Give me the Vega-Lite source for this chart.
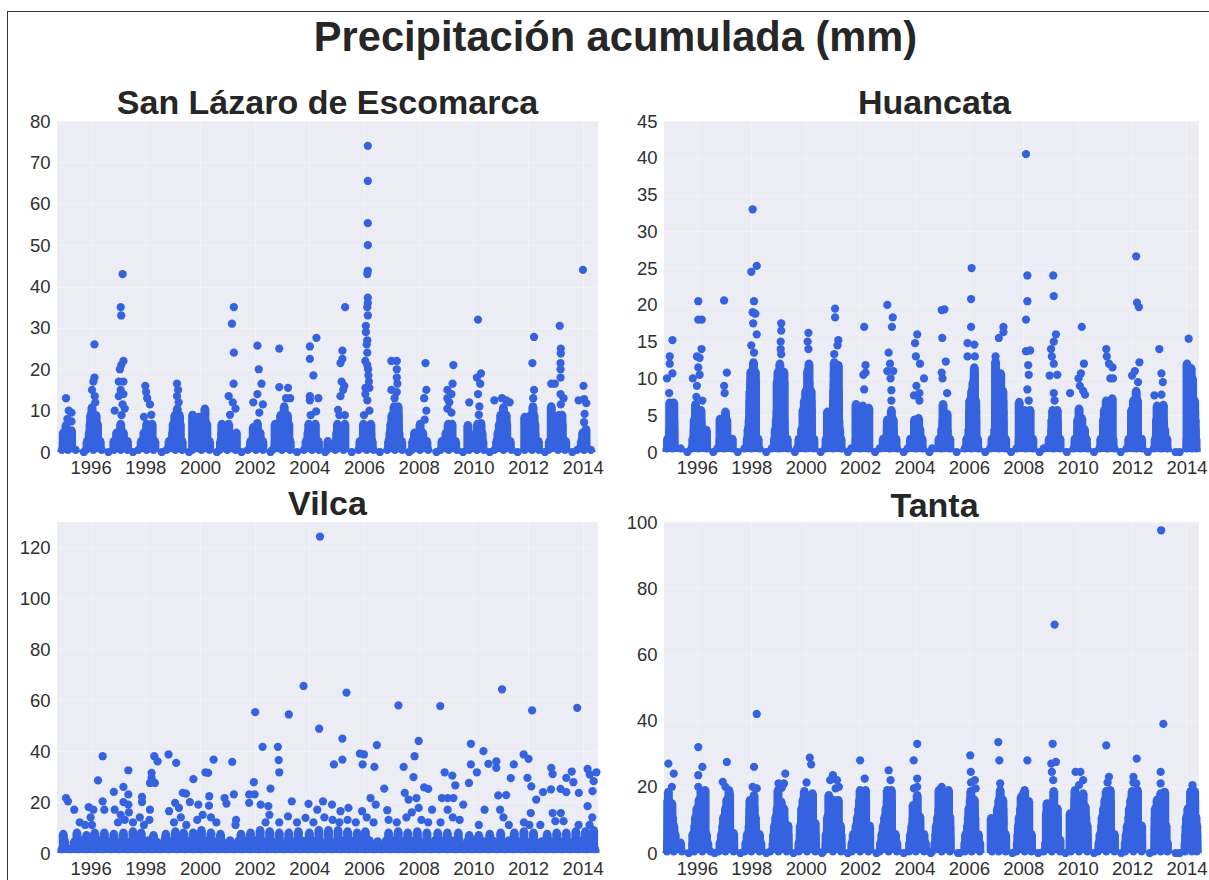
{"$schema":"https://vega.github.io/schema/vega-lite/v6.json","background":"white","padding":{"left":7,"top":11,"right":0,"bottom":0},"spacing":0,"config":{"view":{"fill":"#ECECF4","stroke":null},"axis":{"labelFont":"Liberation Sans","labelFontSize":18.5,"labelColor":"#303030","ticks":false,"domain":false,"title":null,"gridColor":"#F2F2F8","gridWidth":1},"title":{"font":"Liberation Sans","fontSize":34,"fontWeight":"bold","color":"#262626","offset":-9},"point":{"filled":true,"size":68,"color":"#3563E0","opacity":1}},"vconcat":[{"width":1202,"height":1,"view":{"fill":"#333333","stroke":null},"data":{"values":[]},"mark":"rule","encoding":{}},{"spacing":0,"hconcat":[{"width":1,"height":868,"view":{"fill":"#333333","stroke":null},"data":{"values":[]},"mark":"rule","encoding":{}},{"spacing":27,"vconcat":[{"width":1201,"height":1,"view":{"fill":null,"stroke":null},"title":{"text":"Precipitación acumulada (mm)","orient":"bottom","fontSize":41.6,"offset":5,"dx":-42},"data":{"values":[]},"mark":"rule","encoding":{}},{"columns":2,"spacing":{"column":11,"row":11},"concat":[{"title":"San Lázaro de Escomarca","width":541,"height":331,"data":{"values":[
{"x":1994.95,"y":0.5},{"x":1995.17,"y":0.5},{"x":1995.45,"y":0.5},{"x":1995.75,"y":0},{"x":1995,"y":2.6},{"x":1995.25,"y":2.6},{"x":1995,"y":4.7},{"x":1995.3,"y":5.2},{"x":1995.1,"y":13},{"x":1995.2,"y":10},{"x":1995.3,"y":9.5},{"x":1995.15,"y":8},{"x":1995.1,"y":6.5},{"x":1995.3,"y":7.4},
{"x":1995.83,"y":0.5},{"x":1996.1,"y":0.5},{"x":1996.4,"y":0.5},{"x":1996.65,"y":0},{"x":1995.87,"y":2.6},{"x":1996.1,"y":2.6},{"x":1996.35,"y":2.6},{"x":1995.95,"y":4.7},{"x":1996.25,"y":4.7},{"x":1995.98,"y":6.8},{"x":1996.25,"y":6.8},{"x":1996,"y":8.9},{"x":1996.2,"y":8.9},{"x":1996.05,"y":10.8},{"x":1996.17,"y":12},{"x":1996.14,"y":26},{"x":1996.14,"y":18},{"x":1996.1,"y":17},{"x":1996.05,"y":15},{"x":1996.15,"y":13.5},
{"x":1996.85,"y":0.5},{"x":1997.1,"y":0.5},{"x":1997.35,"y":0.5},{"x":1997.55,"y":0},{"x":1996.85,"y":2.6},{"x":1997.1,"y":2.6},{"x":1997.35,"y":2.6},{"x":1996.95,"y":4.7},{"x":1997.2,"y":4.7},{"x":1997.1,"y":6.8},{"x":1997.13,"y":8.9},{"x":1997.17,"y":43},{"x":1997.1,"y":35},{"x":1997.12,"y":33},{"x":1997.2,"y":22},{"x":1997.12,"y":21},{"x":1997.07,"y":20},{"x":1997.03,"y":17},{"x":1997.2,"y":17},{"x":1997.1,"y":15},{"x":1997.2,"y":14},{"x":1997.03,"y":13.5},{"x":1997.17,"y":11.5},{"x":1996.88,"y":10},{"x":1997.25,"y":10.5},
{"x":1997.75,"y":0.5},{"x":1998.05,"y":0.5},{"x":1998.3,"y":0.5},{"x":1998.6,"y":0},{"x":1997.85,"y":2.6},{"x":1998.1,"y":2.6},{"x":1998.35,"y":2.6},{"x":1997.95,"y":4.7},{"x":1998.2,"y":4.7},{"x":1998.05,"y":6.8},{"x":1998.25,"y":6.8},{"x":1998.22,"y":9},{"x":1998,"y":16},{"x":1998.03,"y":14.5},{"x":1998.07,"y":13},{"x":1998.17,"y":11.5},{"x":1997.95,"y":8.5},
{"x":1998.78,"y":0.5},{"x":1999.1,"y":0.5},{"x":1999.35,"y":0.5},{"x":1999.6,"y":0},{"x":1998.87,"y":2.6},{"x":1999.1,"y":2.6},{"x":1999.35,"y":2.6},{"x":1999,"y":4.7},{"x":1999.25,"y":4.7},{"x":1999.02,"y":6.8},{"x":1999.28,"y":6.8},{"x":1999.08,"y":8.9},{"x":1999.25,"y":8.9},{"x":1999.16,"y":16.5},{"x":1999.2,"y":15},{"x":1999.16,"y":13.5},{"x":1999.22,"y":12},{"x":1999.17,"y":10.5},
{"x":1999.72,"y":0.5},{"x":2000.05,"y":0.5},{"x":2000.35,"y":0.5},{"x":2000.62,"y":0},{"x":1999.8,"y":2.6},{"x":2000.1,"y":2.6},{"x":2000.35,"y":2.6},{"x":1999.95,"y":4.7},{"x":2000.2,"y":4.7},{"x":1999.78,"y":6.8},{"x":2000.05,"y":6.8},{"x":2000.25,"y":6.8},{"x":2000.18,"y":10.5},{"x":1999.73,"y":9},{"x":1999.95,"y":8.5},{"x":2000.15,"y":8.8},
{"x":2000.72,"y":0.5},{"x":2001,"y":0.5},{"x":2001.3,"y":0.5},{"x":2001.52,"y":0},{"x":2000.75,"y":2.6},{"x":2001.05,"y":2.6},{"x":2001.3,"y":2.6},{"x":2000.8,"y":4.7},{"x":2001.1,"y":4.7},{"x":2001.33,"y":4.7},{"x":2000.8,"y":6.8},{"x":2001.05,"y":6.8},{"x":2001.24,"y":35},{"x":2001.17,"y":31},{"x":2001.24,"y":24},{"x":2001.23,"y":16.5},{"x":2001.05,"y":13.5},{"x":2001.2,"y":12},{"x":2001.3,"y":10.5},{"x":2001.1,"y":9},
{"x":2001.75,"y":0.5},{"x":2002.05,"y":0.5},{"x":2002.3,"y":0.5},{"x":2002.58,"y":0},{"x":2001.85,"y":2.6},{"x":2002.1,"y":2.6},{"x":2002.3,"y":2.6},{"x":2002.2,"y":4.7},{"x":2002.1,"y":25.7},{"x":2002.15,"y":20},{"x":2002.25,"y":16.5},{"x":2002.1,"y":14},{"x":2001.95,"y":12},{"x":2002.3,"y":11.5},{"x":2002.1,"y":7},{"x":2001.95,"y":6},{"x":2002.17,"y":9.5},
{"x":2002.65,"y":0.5},{"x":2003,"y":0.5},{"x":2003.3,"y":0.5},{"x":2003.55,"y":0},{"x":2002.75,"y":2.6},{"x":2003.05,"y":2.6},{"x":2003.3,"y":2.6},{"x":2002.85,"y":4.7},{"x":2003.15,"y":4.7},{"x":2002.75,"y":6.8},{"x":2003.05,"y":6.8},{"x":2003.25,"y":6.8},{"x":2002.95,"y":8.9},{"x":2003.2,"y":8.9},{"x":2003.08,"y":11},{"x":2002.9,"y":25},{"x":2002.9,"y":15.7},{"x":2003.22,"y":15.5},{"x":2003.15,"y":13},{"x":2003.3,"y":13},
{"x":2003.8,"y":0.5},{"x":2004.1,"y":0.5},{"x":2004.35,"y":0.5},{"x":2004.58,"y":0},{"x":2003.88,"y":2.6},{"x":2004.1,"y":2.6},{"x":2004.33,"y":2.6},{"x":2003.95,"y":4.7},{"x":2004.2,"y":4.7},{"x":2003.98,"y":6.8},{"x":2004.22,"y":6.8},{"x":2004.05,"y":8.9},{"x":2004.25,"y":9.8},{"x":2004.02,"y":25.5},{"x":2004.26,"y":27.6},{"x":2004.02,"y":22.5},{"x":2004.15,"y":18.5},{"x":2004.02,"y":13.5},{"x":2004.02,"y":12.5},{"x":2004.33,"y":13},
{"x":2004.65,"y":0.5},{"x":2004.95,"y":0.5},{"x":2005.25,"y":0.5},{"x":2005.55,"y":0},{"x":2004.68,"y":2.6},{"x":2004.98,"y":2.6},{"x":2005.25,"y":2.6},{"x":2005,"y":4.7},{"x":2005.25,"y":4.7},{"x":2005.03,"y":6.8},{"x":2005.3,"y":6.8},{"x":2005.1,"y":8.9},{"x":2005.3,"y":8.9},{"x":2005.05,"y":10.2},{"x":2005.31,"y":35},{"x":2005.21,"y":24.5},{"x":2005.21,"y":22.5},{"x":2005.14,"y":21.5},{"x":2005.18,"y":17},{"x":2005.28,"y":16},{"x":2005.24,"y":15},{"x":2005.14,"y":13.5},
{"x":2005.8,"y":0.5},{"x":2006.1,"y":0.5},{"x":2006.35,"y":0.5},{"x":2006.58,"y":0},{"x":2005.85,"y":2.6},{"x":2006.15,"y":2.6},{"x":2006.3,"y":2.6},{"x":2005.98,"y":4.7},{"x":2006.25,"y":4.7},{"x":2005.98,"y":6.8},{"x":2006.25,"y":6.8},{"x":2006,"y":8.9},{"x":2006.2,"y":10},{"x":2006.14,"y":74},{"x":2006.14,"y":65.5},{"x":2006.14,"y":55.3},{"x":2006.14,"y":50},{"x":2006.14,"y":43.8},{"x":2006.12,"y":43},{"x":2006.14,"y":37.3},{"x":2006.14,"y":36},{"x":2006.12,"y":35},{"x":2006.14,"y":33},{"x":2006.07,"y":30.5},{"x":2006.07,"y":29},{"x":2006.12,"y":27},{"x":2006.1,"y":26},{"x":2006.12,"y":24},{"x":2006.05,"y":22},{"x":2006.12,"y":21},{"x":2006.15,"y":20},{"x":2006.16,"y":18.5},{"x":2006.18,"y":17},{"x":2006.05,"y":15.5},{"x":2006.2,"y":15.5},{"x":2006.05,"y":14},{"x":2006.12,"y":12.5},
{"x":2006.85,"y":0.5},{"x":2007.13,"y":0.5},{"x":2007.4,"y":0.5},{"x":2007.65,"y":0},{"x":2006.9,"y":2.6},{"x":2007.13,"y":2.6},{"x":2007.38,"y":2.6},{"x":2006.95,"y":4.7},{"x":2007.28,"y":4.7},{"x":2006.98,"y":6.8},{"x":2007.25,"y":6.8},{"x":2007.02,"y":8.9},{"x":2007.25,"y":8.9},{"x":2007.1,"y":11},{"x":2007.25,"y":11},{"x":2007.12,"y":13},{"x":2007,"y":22},{"x":2007.2,"y":22},{"x":2007.2,"y":20},{"x":2007.2,"y":18},{"x":2007.22,"y":16.5},{"x":2007,"y":15},{"x":2007.2,"y":14.5},
{"x":2007.75,"y":0.5},{"x":2008.05,"y":0.5},{"x":2008.35,"y":0.5},{"x":2008.65,"y":0},{"x":2007.78,"y":2.6},{"x":2008.05,"y":2.6},{"x":2008.3,"y":2.6},{"x":2007.85,"y":4.7},{"x":2008.15,"y":4.7},{"x":2008.05,"y":6.8},{"x":2008.22,"y":7.8},{"x":2008.25,"y":21.5},{"x":2008.28,"y":15},{"x":2008.2,"y":13},{"x":2008.28,"y":10},
{"x":2008.8,"y":0.5},{"x":2009.1,"y":0.5},{"x":2009.4,"y":0.5},{"x":2009.62,"y":0},{"x":2008.85,"y":2.6},{"x":2009.15,"y":2.6},{"x":2009.35,"y":2.6},{"x":2009,"y":4.7},{"x":2009.2,"y":4.7},{"x":2009.08,"y":6.8},{"x":2009.22,"y":6.8},{"x":2009.27,"y":21},{"x":2009.24,"y":16.5},{"x":2009.05,"y":15},{"x":2009.2,"y":14},{"x":2009.05,"y":13},{"x":2009.12,"y":12},{"x":2009.05,"y":10.5},{"x":2009.2,"y":9.5},
{"x":2009.85,"y":0.5},{"x":2010.13,"y":0.5},{"x":2010.38,"y":0.5},{"x":2010.6,"y":0},{"x":2009.9,"y":2.6},{"x":2010.13,"y":2.6},{"x":2010.35,"y":2.6},{"x":2010.1,"y":4.7},{"x":2010.32,"y":4.7},{"x":2010.15,"y":6.8},{"x":2010.28,"y":7},{"x":2010.2,"y":9},{"x":2010.22,"y":11},{"x":2010.17,"y":32},{"x":2010.28,"y":19},{"x":2010.13,"y":18},{"x":2010.25,"y":16.5},{"x":2010.17,"y":14},{"x":2009.85,"y":12},{"x":2009.8,"y":6.5},
{"x":2010.77,"y":0.5},{"x":2011.1,"y":0.5},{"x":2011.4,"y":0.5},{"x":2011.62,"y":0},{"x":2010.85,"y":2.6},{"x":2011.1,"y":2.6},{"x":2011.35,"y":2.6},{"x":2010.9,"y":4.7},{"x":2011.2,"y":4.7},{"x":2010.95,"y":6.8},{"x":2011.22,"y":6.8},{"x":2011,"y":9},{"x":2011.2,"y":9},{"x":2010.77,"y":12.5},{"x":2011.05,"y":13},{"x":2011.2,"y":12.5},{"x":2011.33,"y":12},{"x":2011.1,"y":10.8},
{"x":2011.88,"y":0.5},{"x":2012.15,"y":0.5},{"x":2012.4,"y":0.5},{"x":2012.62,"y":0},{"x":2011.92,"y":2.6},{"x":2012.15,"y":2.6},{"x":2012.38,"y":2.6},{"x":2012,"y":4.7},{"x":2012.25,"y":4.7},{"x":2012.05,"y":6.8},{"x":2012.25,"y":6.8},{"x":2012.1,"y":8.9},{"x":2012.22,"y":8.9},{"x":2012.18,"y":11},{"x":2012.22,"y":27.8},{"x":2012.16,"y":21.5},{"x":2012.22,"y":15},{"x":2012.19,"y":13},{"x":2011.88,"y":8.5},
{"x":2012.75,"y":0.5},{"x":2013.1,"y":0.5},{"x":2013.35,"y":0.5},{"x":2013.62,"y":0},{"x":2012.78,"y":2.6},{"x":2013.15,"y":2.6},{"x":2013.38,"y":2.6},{"x":2012.9,"y":4.7},{"x":2013.2,"y":4.7},{"x":2013.1,"y":6.8},{"x":2013.25,"y":6.8},{"x":2013.12,"y":8.9},{"x":2013.24,"y":9},{"x":2013.16,"y":30.5},{"x":2013.2,"y":25},{"x":2013.2,"y":23.8},{"x":2013.19,"y":21.5},{"x":2013.19,"y":20},{"x":2013.19,"y":18},{"x":2012.85,"y":16.5},{"x":2012.98,"y":16.5},{"x":2013.19,"y":14},{"x":2013.3,"y":13},{"x":2012.85,"y":11},{"x":2013.2,"y":11.5},
{"x":2013.8,"y":0.5},{"x":2014.05,"y":0.5},{"x":2014.3,"y":0.5},{"x":2013.95,"y":2.6},{"x":2014.1,"y":2.6},{"x":2014,"y":4.7},{"x":2014.12,"y":5.5},{"x":2014.05,"y":7.2},{"x":2014.07,"y":9.2},{"x":2014.01,"y":44},{"x":2014.03,"y":16},{"x":2013.85,"y":12.5},{"x":2014.05,"y":12.8},{"x":2014.13,"y":11.8}
]},"encoding":{"x":{"field":"x","type":"quantitative","scale":{"domain":[1994.77,2014.56],"nice":false},"axis":{"values":[1996,1998,2000,2002,2004,2006,2008,2010,2012,2014],"format":"d","labelOverlap":false,"labelPadding":6}},"y":{"field":"y","type":"quantitative","scale":{"domain":[0,80],"nice":false},"axis":{"values":[0,10,20,30,40,50,60,70,80],"minExtent":49,"maxExtent":49,"labelPadding":7}}},"layer":[{"transform":[{"filter":"datum.y<=7||(((datum.x>1995.8&&datum.x<1996.6)||(datum.x>1998.8&&datum.x<2001)||(datum.x>2002.7&&datum.x<2003.5)||(datum.x>2006.8&&datum.x<2007.5)||(datum.x>2010.9&&datum.x<2013.5))&&datum.y<=11)"}],"mark":{"type":"rule","strokeWidth":9,"color":"#3563E0"},"encoding":{"y2":{"datum":0}}},{"mark":"point"}]},{"title":{"text":"Huancata","dx":3},"width":535,"height":331,"data":{"values":[
{"x":1994.9,"y":0.5},{"x":1995.1,"y":0.5},{"x":1995.4,"y":0.5},{"x":1995.65,"y":0},{"x":1994.92,"y":1.8},{"x":1995.15,"y":1.8},{"x":1995,"y":3.1},{"x":1995.15,"y":3.1},{"x":1995.15,"y":4.4},{"x":1994.9,"y":10},{"x":1995,"y":12},{"x":1995,"y":13},{"x":1995.1,"y":15.2},{"x":1995.1,"y":10.7},{"x":1995.15,"y":6.7},{"x":1995,"y":6.7},{"x":1994.98,"y":8},
{"x":1995.8,"y":0.5},{"x":1996.05,"y":0.5},{"x":1996.35,"y":0.5},{"x":1996.6,"y":0},{"x":1995.85,"y":1.8},{"x":1996.05,"y":1.8},{"x":1996.35,"y":1.8},{"x":1995.9,"y":3.1},{"x":1996.1,"y":3.1},{"x":1996.35,"y":3},{"x":1995.9,"y":4.4},{"x":1996.15,"y":4.4},{"x":1996.15,"y":5.7},{"x":1995.95,"y":6.5},{"x":1996.05,"y":20.5},{"x":1996.05,"y":18},{"x":1996.18,"y":18},{"x":1996.17,"y":14},{"x":1996,"y":13},{"x":1996.1,"y":12.8},{"x":1996.05,"y":11.5},{"x":1996.1,"y":10.5},{"x":1995.85,"y":10},{"x":1996,"y":9},{"x":1995.98,"y":7.5},{"x":1996.2,"y":7},
{"x":1996.75,"y":0.5},{"x":1997,"y":0.5},{"x":1997.3,"y":0.5},{"x":1997.5,"y":0},{"x":1996.85,"y":1.8},{"x":1997.1,"y":1.8},{"x":1997.3,"y":1.8},{"x":1996.95,"y":3.1},{"x":1997.1,"y":4.4},{"x":1996.85,"y":4.5},{"x":1997,"y":20.6},{"x":1997.1,"y":10.8},{"x":1997,"y":9},{"x":1997.02,"y":8},{"x":1997.05,"y":5.5},
{"x":1997.75,"y":0.5},{"x":1998,"y":0.5},{"x":1998.3,"y":0.5},{"x":1998.55,"y":0},{"x":1997.85,"y":1.8},{"x":1998.05,"y":1.8},{"x":1998.25,"y":1.8},{"x":1997.88,"y":3.1},{"x":1998.15,"y":3.1},{"x":1997.92,"y":4.4},{"x":1998.15,"y":4.4},{"x":1997.95,"y":5.7},{"x":1998.15,"y":5.7},{"x":1997.95,"y":7},{"x":1998.15,"y":7},{"x":1997.95,"y":8.3},{"x":1998.15,"y":8.3},{"x":1997.98,"y":9.6},{"x":1998.15,"y":9.6},{"x":1997.98,"y":10.9},{"x":1998.15,"y":10.9},{"x":1998.08,"y":12.2},{"x":1998,"y":24.5},{"x":1998.2,"y":25.3},{"x":1998.05,"y":33},{"x":1998.1,"y":20.5},{"x":1998.05,"y":19},{"x":1998.15,"y":18.8},{"x":1998.07,"y":17.5},{"x":1998.2,"y":16},{"x":1998,"y":14.5},{"x":1998.1,"y":13.5},
{"x":1998.75,"y":0.5},{"x":1999,"y":0.5},{"x":1999.35,"y":0.5},{"x":1999.6,"y":0},{"x":1998.85,"y":1.8},{"x":1999.1,"y":1.8},{"x":1999.32,"y":1.8},{"x":1998.88,"y":3.1},{"x":1999.2,"y":3.1},{"x":1998.92,"y":4.4},{"x":1999.2,"y":4.4},{"x":1998.95,"y":5.7},{"x":1999.18,"y":5.7},{"x":1998.98,"y":7},{"x":1999.18,"y":7},{"x":1998.98,"y":8.3},{"x":1999.18,"y":8.3},{"x":1998.95,"y":9.6},{"x":1999.2,"y":9.6},{"x":1998.98,"y":10.9},{"x":1999.2,"y":10.9},{"x":1999.05,"y":12},{"x":1999.1,"y":17.5},{"x":1999.1,"y":16.5},{"x":1999.08,"y":15},{"x":1999.08,"y":14},{"x":1999.1,"y":13.3},
{"x":1999.68,"y":0.5},{"x":2000,"y":0.5},{"x":2000.3,"y":0.5},{"x":2000.55,"y":0},{"x":1999.75,"y":1.8},{"x":2000,"y":1.8},{"x":2000.3,"y":1.8},{"x":1999.85,"y":3.1},{"x":2000.15,"y":3.1},{"x":1999.95,"y":4.4},{"x":2000.2,"y":4.4},{"x":1999.9,"y":5.7},{"x":2000.2,"y":5.7},{"x":1999.95,"y":7},{"x":2000.2,"y":7},{"x":2000,"y":8.3},{"x":2000.2,"y":8.3},{"x":2000.12,"y":9.6},{"x":2000.1,"y":16.2},{"x":2000.07,"y":15},{"x":2000.1,"y":14},{"x":2000.12,"y":12},{"x":2000.07,"y":11},
{"x":2000.72,"y":0.5},{"x":2001,"y":0.5},{"x":2001.32,"y":0.5},{"x":2001.55,"y":0},{"x":2000.75,"y":1.8},{"x":2001,"y":1.8},{"x":2001.3,"y":1.8},{"x":2001.05,"y":3.1},{"x":2001.25,"y":3.1},{"x":2001.05,"y":4.4},{"x":2001.22,"y":4.4},{"x":2001.05,"y":5.7},{"x":2001.2,"y":5.7},{"x":2001.03,"y":7},{"x":2001.2,"y":7},{"x":2001.03,"y":8.3},{"x":2001.2,"y":8.3},{"x":2001.05,"y":9.6},{"x":2001.05,"y":11},{"x":2001.05,"y":12.2},{"x":2001.05,"y":13.3},{"x":2001.08,"y":19.5},{"x":2001.08,"y":18.3},{"x":2001.2,"y":15.2},{"x":2001.17,"y":14.5},{"x":2001.2,"y":11.8},{"x":2000.8,"y":5.5},
{"x":2001.68,"y":0.5},{"x":2002,"y":0.5},{"x":2002.3,"y":0.5},{"x":2002.55,"y":0},{"x":2001.85,"y":1.8},{"x":2002.1,"y":1.8},{"x":2002.3,"y":1.8},{"x":2002,"y":3},{"x":2002.18,"y":3.1},{"x":2002.15,"y":4.5},{"x":2002.15,"y":17},{"x":2002.2,"y":11.8},{"x":2002.12,"y":10.5},{"x":2002.2,"y":10.8},{"x":2002.15,"y":8.5},{"x":2001.85,"y":6.5},{"x":2002.32,"y":6},{"x":2002.1,"y":6.3},
{"x":2002.72,"y":0.5},{"x":2003.1,"y":0.5},{"x":2003.35,"y":0.5},{"x":2003.6,"y":0},{"x":2002.85,"y":1.8},{"x":2003.1,"y":1.8},{"x":2003.32,"y":1.8},{"x":2003,"y":3.1},{"x":2003.22,"y":3.1},{"x":2003,"y":4.4},{"x":2003.22,"y":4.4},{"x":2003.15,"y":5.7},{"x":2003.15,"y":7},{"x":2003.15,"y":8.4},{"x":2003,"y":20},{"x":2003.2,"y":18.3},{"x":2003.17,"y":17},{"x":2003.05,"y":13.5},{"x":2003.1,"y":12},{"x":2003,"y":11},{"x":2003.22,"y":11},{"x":2003.12,"y":10},
{"x":2003.75,"y":0.5},{"x":2004.05,"y":0.5},{"x":2004.3,"y":0.5},{"x":2004.55,"y":0},{"x":2003.85,"y":1.8},{"x":2004.1,"y":1.8},{"x":2004.28,"y":1.8},{"x":2004,"y":3.1},{"x":2004.2,"y":3.1},{"x":2004,"y":4.4},{"x":2004.15,"y":4.6},{"x":2004.1,"y":16},{"x":2004.02,"y":14.8},{"x":2004.05,"y":13},{"x":2004.2,"y":12},{"x":2004.35,"y":10},{"x":2003.98,"y":7.7},{"x":2004.18,"y":8},{"x":2004.07,"y":9},{"x":2004.18,"y":7},
{"x":2004.65,"y":0.5},{"x":2005,"y":0.5},{"x":2005.3,"y":0.5},{"x":2005.55,"y":0},{"x":2004.9,"y":1.8},{"x":2005.1,"y":1.8},{"x":2005.3,"y":1.8},{"x":2005,"y":3.1},{"x":2005.2,"y":3},{"x":2005.05,"y":4.5},{"x":2005.2,"y":5.2},{"x":2005,"y":19.3},{"x":2005.1,"y":19.4},{"x":2005.02,"y":15.5},{"x":2005.15,"y":12.3},{"x":2005,"y":10.8},{"x":2005.03,"y":10},{"x":2005.2,"y":8},{"x":2005.05,"y":6.5},
{"x":2005.85,"y":0.5},{"x":2006.1,"y":0.5},{"x":2006.35,"y":0.5},{"x":2006.6,"y":0},{"x":2005.92,"y":1.8},{"x":2006.15,"y":1.8},{"x":2006.32,"y":1.8},{"x":2006,"y":3.1},{"x":2006.22,"y":3.1},{"x":2006.03,"y":4.4},{"x":2006.25,"y":4.4},{"x":2006.03,"y":5.7},{"x":2006.25,"y":5.7},{"x":2006.03,"y":7},{"x":2006.25,"y":7},{"x":2006.1,"y":8.3},{"x":2006.15,"y":9.5},{"x":2006.1,"y":25},{"x":2006.08,"y":20.8},{"x":2006.08,"y":17},{"x":2005.95,"y":14.8},{"x":2006.2,"y":14.6},{"x":2005.95,"y":13},{"x":2006.22,"y":13},{"x":2006.2,"y":11.5},{"x":2006.2,"y":10.8},
{"x":2006.78,"y":0.5},{"x":2007.1,"y":0.5},{"x":2007.35,"y":0.5},{"x":2007.55,"y":0},{"x":2006.85,"y":1.8},{"x":2007.1,"y":1.8},{"x":2007.35,"y":1.8},{"x":2006.95,"y":3.1},{"x":2007.25,"y":3.1},{"x":2006.98,"y":4.4},{"x":2007.25,"y":4.4},{"x":2006.98,"y":5.7},{"x":2007.25,"y":5.7},{"x":2007,"y":7},{"x":2007.25,"y":7},{"x":2007.05,"y":8.3},{"x":2007.25,"y":8.3},{"x":2007.1,"y":9.6},{"x":2007.1,"y":15.5},{"x":2007.27,"y":17},{"x":2007.27,"y":16.3},{"x":2006.98,"y":13},{"x":2006.98,"y":12.3},{"x":2007.17,"y":10.7},
{"x":2007.75,"y":0.5},{"x":2008.1,"y":0.5},{"x":2008.35,"y":0.5},{"x":2008.6,"y":0},{"x":2007.85,"y":1.8},{"x":2008.1,"y":1.8},{"x":2008.35,"y":1.8},{"x":2007.95,"y":3.1},{"x":2008.2,"y":3.1},{"x":2007.95,"y":4.4},{"x":2008.2,"y":4.4},{"x":2008.05,"y":5.7},{"x":2008.25,"y":5.7},{"x":2008.2,"y":7},{"x":2008.15,"y":8.5},{"x":2008.1,"y":40.5},{"x":2008.15,"y":24},{"x":2008.15,"y":20.5},{"x":2008.1,"y":18},{"x":2008.1,"y":13.7},{"x":2008.25,"y":13.8},{"x":2008.18,"y":11.8},{"x":2008.2,"y":10.5},{"x":2007.85,"y":6.8},
{"x":2008.75,"y":0.5},{"x":2009.1,"y":0.5},{"x":2009.35,"y":0.5},{"x":2009.6,"y":0},{"x":2008.95,"y":1.8},{"x":2009.1,"y":1.8},{"x":2009.35,"y":1.8},{"x":2009.05,"y":3.1},{"x":2009.25,"y":3.1},{"x":2009.05,"y":4.4},{"x":2009.25,"y":4.4},{"x":2009.08,"y":5.7},{"x":2009.25,"y":5.7},{"x":2009.15,"y":7},{"x":2009.1,"y":24},{"x":2009.12,"y":21.2},{"x":2009.2,"y":16},{"x":2009.12,"y":15},{"x":2009.02,"y":14},{"x":2009.05,"y":13},{"x":2009.12,"y":12},{"x":2008.97,"y":10.4},{"x":2009.25,"y":10.5},{"x":2009.12,"y":8},
{"x":2009.85,"y":0.5},{"x":2010.1,"y":0.5},{"x":2010.35,"y":0.5},{"x":2010.6,"y":0},{"x":2009.9,"y":1.8},{"x":2010.1,"y":1.8},{"x":2010.32,"y":1.8},{"x":2010,"y":3.1},{"x":2010.25,"y":3.1},{"x":2010,"y":4.4},{"x":2010.15,"y":4.6},{"x":2010.05,"y":5.9},{"x":2010.15,"y":17},{"x":2010.23,"y":12},{"x":2010.12,"y":10.7},{"x":2010.03,"y":10},{"x":2010.08,"y":9},{"x":2010.2,"y":8.3},{"x":2010.27,"y":7.8},{"x":2009.72,"y":8},
{"x":2010.8,"y":0.5},{"x":2011.1,"y":0.5},{"x":2011.35,"y":0.5},{"x":2011.58,"y":0},{"x":2010.85,"y":1.8},{"x":2011.1,"y":1.8},{"x":2011.3,"y":1.8},{"x":2010.95,"y":3.1},{"x":2011.2,"y":3.1},{"x":2010.95,"y":4.4},{"x":2011.2,"y":4.4},{"x":2010.98,"y":5.7},{"x":2011.22,"y":5.7},{"x":2011.05,"y":7},{"x":2011.27,"y":7.3},{"x":2011.05,"y":14},{"x":2011.07,"y":13},{"x":2011.15,"y":12},{"x":2011.28,"y":11.5},{"x":2011.2,"y":10},{"x":2011.3,"y":10},
{"x":2011.8,"y":0.5},{"x":2012.15,"y":0.5},{"x":2012.38,"y":0.5},{"x":2012.58,"y":0},{"x":2011.88,"y":1.8},{"x":2012.15,"y":1.8},{"x":2012.35,"y":1.8},{"x":2011.98,"y":3.1},{"x":2012.2,"y":3.1},{"x":2011.98,"y":4.4},{"x":2012.2,"y":4.4},{"x":2011.98,"y":5.7},{"x":2012.2,"y":5.7},{"x":2012.05,"y":7},{"x":2012.2,"y":7},{"x":2012.15,"y":8.3},{"x":2012.15,"y":26.6},{"x":2012.18,"y":20.3},{"x":2012.25,"y":19.7},{"x":2012.27,"y":12.2},{"x":2012.1,"y":11},{"x":2012,"y":10.4},{"x":2012.22,"y":9.5},
{"x":2012.8,"y":0.5},{"x":2013.08,"y":0.5},{"x":2013.3,"y":0.5},{"x":2013.6,"y":0},{"x":2012.85,"y":1.8},{"x":2013.08,"y":1.8},{"x":2013.28,"y":1.8},{"x":2012.9,"y":3.1},{"x":2013.2,"y":3.1},{"x":2012.9,"y":4.4},{"x":2013.15,"y":4.4},{"x":2012.92,"y":6.3},{"x":2013.15,"y":6.4},{"x":2013,"y":14},{"x":2013.08,"y":10.7},{"x":2013.13,"y":9.5},{"x":2012.82,"y":7.7},{"x":2013.08,"y":7.8},
{"x":2013.75,"y":0},{"x":2014,"y":0.5},{"x":2014.2,"y":0.5},{"x":2014.35,"y":0.5},{"x":2014.02,"y":1.8},{"x":2014.2,"y":1.8},{"x":2014.35,"y":1.8},{"x":2014.15,"y":3.1},{"x":2014.32,"y":3.1},{"x":2014.15,"y":4.4},{"x":2014.32,"y":4.4},{"x":2014.15,"y":5.7},{"x":2014.3,"y":5.7},{"x":2014.15,"y":7},{"x":2014.3,"y":7},{"x":2014.2,"y":8.3},{"x":2014.08,"y":15.4},{"x":2014.02,"y":12},{"x":2014.17,"y":11.4},{"x":2014.05,"y":10.2},{"x":2014.22,"y":10}
]},"encoding":{"x":{"field":"x","type":"quantitative","scale":{"domain":[1994.79,2014.46],"nice":false},"axis":{"values":[1996,1998,2000,2002,2004,2006,2008,2010,2012,2014],"format":"d","labelOverlap":false,"labelPadding":6}},"y":{"field":"y","type":"quantitative","scale":{"domain":[0,45],"nice":false},"axis":{"values":[0,5,10,15,20,25,30,35,40,45],"minExtent":49,"maxExtent":49,"labelPadding":7}}},"layer":[{"transform":[{"filter":"datum.y<=6.9||(((datum.x>1997.7&&datum.x<2001.5)||(datum.x>2005.8&&datum.x<2007.5)||datum.x>2014)&&datum.y<=12.3)||(datum.x>2011&&datum.x<2012.6&&datum.y<=8.4)"}],"mark":{"type":"rule","strokeWidth":9,"color":"#3563E0"},"encoding":{"y2":{"datum":0}}},{"mark":"point"}]},{"title":{"text":"Vilca","offset":0},"width":541,"height":331,"data":{"values":[
{"x":1994.95,"y":1.5},{"x":1995.25,"y":1.5},{"x":1995.55,"y":1.5},{"x":1995.85,"y":1.5},{"x":1996.15,"y":1.5},{"x":1996.45,"y":1.5},{"x":1996.75,"y":1.5},{"x":1997.05,"y":1.5},{"x":1997.35,"y":1.5},{"x":1997.65,"y":1.5},{"x":1997.95,"y":1.5},{"x":1998.25,"y":1.5},{"x":1998.55,"y":1.5},{"x":1998.85,"y":1.5},{"x":1999.15,"y":1.5},{"x":1999.45,"y":1.5},{"x":1999.75,"y":1.5},{"x":2000.05,"y":1.5},{"x":2000.35,"y":1.5},{"x":2000.65,"y":1.5},{"x":2000.95,"y":1.5},{"x":2001.25,"y":1.5},{"x":2001.55,"y":1.5},{"x":2001.85,"y":1.5},{"x":2002.15,"y":1.5},{"x":2002.45,"y":1.5},{"x":2002.75,"y":1.5},{"x":2003.05,"y":1.5},{"x":2003.35,"y":1.5},{"x":2003.65,"y":1.5},{"x":2003.95,"y":1.5},{"x":2004.25,"y":1.5},{"x":2004.55,"y":1.5},{"x":2004.85,"y":1.5},{"x":2005.15,"y":1.5},{"x":2005.45,"y":1.5},{"x":2005.75,"y":1.5},{"x":2006.05,"y":1.5},{"x":2006.35,"y":1.5},{"x":2006.65,"y":1.5},{"x":2006.95,"y":1.5},{"x":2007.25,"y":1.5},{"x":2007.55,"y":1.5},{"x":2007.85,"y":1.5},{"x":2008.15,"y":1.5},{"x":2008.45,"y":1.5},{"x":2008.75,"y":1.5},{"x":2009.05,"y":1.5},{"x":2009.35,"y":1.5},{"x":2009.65,"y":1.5},{"x":2009.95,"y":1.5},{"x":2010.25,"y":1.5},{"x":2010.55,"y":1.5},{"x":2010.85,"y":1.5},{"x":2011.15,"y":1.5},{"x":2011.45,"y":1.5},{"x":2011.75,"y":1.5},{"x":2012.05,"y":1.5},{"x":2012.35,"y":1.5},{"x":2012.65,"y":1.5},{"x":2012.95,"y":1.5},{"x":2013.25,"y":1.5},{"x":2013.55,"y":1.5},{"x":2013.85,"y":1.5},{"x":2014.15,"y":1.5},{"x":2014.45,"y":1.5},
{"x":1995.05,"y":4.8},{"x":1995.4,"y":4.5},{"x":1995.7,"y":5},{"x":1996,"y":4.8},{"x":1996.3,"y":5},{"x":1996.6,"y":4.6},{"x":1996.9,"y":4.8},{"x":1997.2,"y":5},{"x":1997.5,"y":4.7},{"x":1997.8,"y":4.8},{"x":1998.1,"y":5},{"x":1998.4,"y":4.6},{"x":1998.7,"y":5},{"x":1999,"y":4.8},{"x":1999.3,"y":5},{"x":1999.6,"y":4.7},{"x":1999.9,"y":4.8},{"x":2000.2,"y":5},{"x":2000.5,"y":4.6},{"x":2000.8,"y":4.8},{"x":2001.1,"y":5},{"x":2001.4,"y":4.7},{"x":2001.7,"y":4.8},{"x":2002,"y":5},{"x":2002.3,"y":4.6},{"x":2002.6,"y":5},{"x":2002.9,"y":4.8},{"x":2003.2,"y":5},{"x":2003.5,"y":4.7},{"x":2003.8,"y":4.8},{"x":2004.1,"y":5},{"x":2004.4,"y":4.6},{"x":2004.7,"y":5},{"x":2005,"y":4.8},{"x":2005.3,"y":5},{"x":2005.6,"y":4.7},{"x":2005.9,"y":4.8},{"x":2006.2,"y":5},{"x":2006.5,"y":4.6},{"x":2006.8,"y":4.8},{"x":2007.1,"y":5},{"x":2007.4,"y":4.7},{"x":2007.7,"y":4.8},{"x":2008,"y":5},{"x":2008.3,"y":4.6},{"x":2008.6,"y":5},{"x":2008.9,"y":4.8},{"x":2009.2,"y":5},{"x":2009.5,"y":4.7},{"x":2009.8,"y":4.8},{"x":2010.1,"y":5},{"x":2010.4,"y":4.6},{"x":2010.7,"y":5},{"x":2011,"y":4.8},{"x":2011.3,"y":5},{"x":2011.6,"y":4.7},{"x":2011.9,"y":4.8},{"x":2012.2,"y":5},{"x":2012.5,"y":4.6},{"x":2012.8,"y":4.8},{"x":2013.1,"y":5},{"x":2013.4,"y":4.7},{"x":2013.7,"y":4.8},{"x":2014,"y":5},{"x":2014.3,"y":4.6},
{"x":1995,"y":7.5},{"x":1995.5,"y":8},{"x":1995.85,"y":7},{"x":1996.15,"y":8},{"x":1996.5,"y":8},{"x":1996.85,"y":7.5},{"x":1997.2,"y":8},{"x":1997.55,"y":8.5},{"x":1997.85,"y":8},{"x":1998.3,"y":7},{"x":1998.75,"y":7.5},{"x":1999.1,"y":8.5},{"x":1999.4,"y":8},{"x":1999.75,"y":8},{"x":2000.05,"y":9},{"x":2000.4,"y":8},{"x":2000.75,"y":7.5},{"x":2001.5,"y":7.5},{"x":2001.85,"y":8},{"x":2002.2,"y":9},{"x":2002.55,"y":8.5},{"x":2002.9,"y":8},{"x":2003.25,"y":8},{"x":2003.6,"y":8.5},{"x":2004,"y":8},{"x":2004.35,"y":9},{"x":2004.7,"y":9},{"x":2005.05,"y":9},{"x":2005.4,"y":8.5},{"x":2005.75,"y":8},{"x":2006.05,"y":8.5},{"x":2006.9,"y":8},{"x":2007.25,"y":8.5},{"x":2007.6,"y":8},{"x":2007.95,"y":8.5},{"x":2008.3,"y":8},{"x":2008.7,"y":8},{"x":2009.05,"y":8},{"x":2009.45,"y":8},{"x":2009.85,"y":7},{"x":2010.2,"y":7},{"x":2010.6,"y":7.5},{"x":2011,"y":8},{"x":2011.5,"y":8},{"x":2011.85,"y":8.5},{"x":2012.2,"y":8},{"x":2012.7,"y":7.5},{"x":2013.05,"y":8},{"x":2013.4,"y":8},{"x":2013.75,"y":8.5},{"x":2014.1,"y":8.5},{"x":2014.4,"y":9},
{"x":1995.1,"y":21.6},{"x":1995.17,"y":20.3},{"x":1995.4,"y":17},{"x":1995.6,"y":12},{"x":1995.93,"y":18},{"x":1996.1,"y":17},{"x":1996,"y":14},{"x":1996.27,"y":28.5},{"x":1996.44,"y":38},{"x":1996.44,"y":20.3},{"x":1996.5,"y":17},{"x":1996.85,"y":24},{"x":1996.88,"y":17},{"x":1997.2,"y":26},{"x":1997.38,"y":32.5},{"x":1997.38,"y":23},{"x":1997.2,"y":20},{"x":1997.38,"y":19},{"x":1997.1,"y":15},{"x":1997.4,"y":16},{"x":1997.88,"y":22},{"x":1997.88,"y":20},{"x":1998.17,"y":27.5},{"x":1998.23,"y":31.5},{"x":1998.23,"y":29.5},{"x":1998.35,"y":27.5},{"x":1998.33,"y":38},{"x":1998.45,"y":36},{"x":1998.17,"y":17},{"x":1997.8,"y":14},{"x":1998.85,"y":38.7},{"x":1999.13,"y":35.4},{"x":1999.37,"y":23.6},{"x":1999.49,"y":23.3},{"x":1999.76,"y":29},{"x":1999.63,"y":20},{"x":1999.94,"y":19},{"x":2000.2,"y":31.7},{"x":2000.3,"y":31.5},{"x":2000.5,"y":36.7},{"x":2000.34,"y":22.3},{"x":2000.33,"y":18.6},{"x":1999.09,"y":19.7},{"x":1999.23,"y":17.7},{"x":1998.87,"y":16.4},{"x":2001.18,"y":35.8},{"x":2000.9,"y":21.6},{"x":2000.97,"y":19.4},{"x":2001.24,"y":23},{"x":2001.32,"y":13},{"x":2001.3,"y":11},{"x":2001.8,"y":19.7},{"x":2001.8,"y":23},{"x":2002,"y":23},{"x":2001.97,"y":27.8},{"x":2002.02,"y":55.3},{"x":2002.29,"y":41.7},{"x":2002.22,"y":19},{"x":2002.58,"y":25.3},{"x":2002.5,"y":18.4},{"x":2002.54,"y":15},{"x":2002.85,"y":41.7},{"x":2002.88,"y":36.5},{"x":2002.9,"y":31.7},{"x":2003.25,"y":54.4},{"x":2003.36,"y":20.3},{"x":2003.22,"y":14.4},{"x":2003.79,"y":65.6},{"x":2003.97,"y":19.3},{"x":2003.86,"y":13.8},{"x":2004.39,"y":124.3},{"x":2004.36,"y":48.8},{"x":2004.5,"y":20.3},{"x":2004.29,"y":17},{"x":2004.9,"y":34.8},{"x":2005.21,"y":44.9},{"x":2005.21,"y":36.7},{"x":2004.83,"y":19},{"x":2005.36,"y":63},{"x":2005.14,"y":16.4},{"x":2005.43,"y":17.7},{"x":2005.85,"y":39},{"x":2006,"y":38.7},{"x":2005.95,"y":34.8},{"x":2006.47,"y":42.4},{"x":2006.38,"y":33.8},{"x":2006.24,"y":21.6},{"x":2006.43,"y":19},{"x":2005.93,"y":16.4},{"x":2006.74,"y":25.3},{"x":2006.85,"y":16.8},{"x":2007.26,"y":58},{"x":2007.45,"y":33.8},{"x":2007.49,"y":23.6},{"x":2007.63,"y":21},{"x":2007.92,"y":21.6},{"x":2007.85,"y":38},{"x":2008,"y":44},{"x":2007.81,"y":29.8},{"x":2008.2,"y":25.8},{"x":2008.35,"y":25.2},{"x":2008.79,"y":57.7},{"x":2008,"y":17.7},{"x":2008.49,"y":17},{"x":2008.95,"y":31.7},{"x":2009.23,"y":30.4},{"x":2009.34,"y":26.6},{"x":2008.85,"y":21.6},{"x":2009.06,"y":21.6},{"x":2009.27,"y":21.6},{"x":2009.06,"y":17},{"x":2009.63,"y":19},{"x":2009.84,"y":27.5},{"x":2009.91,"y":42.9},{"x":2009.91,"y":34.8},{"x":2010.13,"y":31.7},{"x":2010.37,"y":40},{"x":2010.55,"y":35},{"x":2010.41,"y":17},{"x":2010.84,"y":36},{"x":2010.84,"y":33.4},{"x":2011.05,"y":64.3},{"x":2010.91,"y":22.6},{"x":2011.2,"y":22.7},{"x":2011.37,"y":29.4},{"x":2011.48,"y":34.8},{"x":2010.98,"y":17},{"x":2011.84,"y":38.7},{"x":2012.02,"y":37},{"x":2012.15,"y":56},{"x":2011.98,"y":29.5},{"x":2012.12,"y":26.2},{"x":2012.3,"y":21},{"x":2012.55,"y":23.9},{"x":2012.85,"y":33.4},{"x":2012.9,"y":31},{"x":2012.84,"y":25},{"x":2013.4,"y":29.5},{"x":2013.19,"y":25.2},{"x":2013.4,"y":23.9},{"x":2013.6,"y":32},{"x":2013.66,"y":27.8},{"x":2013.8,"y":57},{"x":2013.86,"y":23.6},{"x":2014.18,"y":33},{"x":2014.26,"y":30.8},{"x":2014.4,"y":28.2},{"x":2014.5,"y":31.7},{"x":2014.36,"y":24.3},{"x":2014.18,"y":18.4},{"x":2012.1,"y":15.7},{"x":2012.9,"y":15.7},{"x":2013.2,"y":15.7},
{"x":1995.8,"y":11},{"x":1996.05,"y":11},{"x":1997,"y":12},{"x":1997.25,"y":13},{"x":1997.55,"y":12},{"x":1997.95,"y":11},{"x":1998.15,"y":13},{"x":1999.05,"y":12},{"x":1999.3,"y":14},{"x":1999.5,"y":11},{"x":1999.9,"y":13},{"x":2000.1,"y":15},{"x":2000.4,"y":14},{"x":2000.6,"y":12},{"x":2002.4,"y":12},{"x":2002.9,"y":12},{"x":2003.55,"y":12},{"x":2004.15,"y":12},{"x":2004.55,"y":14},{"x":2004.85,"y":13},{"x":2005.1,"y":12},{"x":2005.4,"y":13},{"x":2005.7,"y":12},{"x":2006.1,"y":14},{"x":2006.35,"y":12},{"x":2006.9,"y":13},{"x":2007.2,"y":12},{"x":2007.55,"y":14},{"x":2007.75,"y":16},{"x":2008.1,"y":13},{"x":2008.35,"y":12},{"x":2008.8,"y":12},{"x":2009.25,"y":14},{"x":2009.5,"y":13},{"x":2010.2,"y":11},{"x":2011.1,"y":14},{"x":2011.3,"y":11},{"x":2011.85,"y":12},{"x":2012.05,"y":11},{"x":2012.45,"y":11},{"x":2013,"y":12.5},{"x":2013.3,"y":12.5},{"x":2013.85,"y":11},{"x":2014.25,"y":11},{"x":2014.35,"y":14}
]},"encoding":{"x":{"field":"x","type":"quantitative","scale":{"domain":[1994.77,2014.56],"nice":false},"axis":{"values":[1996,1998,2000,2002,2004,2006,2008,2010,2012,2014],"format":"d","labelOverlap":false,"labelPadding":6}},"y":{"field":"y","type":"quantitative","scale":{"domain":[0,130],"nice":false},"axis":{"values":[0,20,40,60,80,100,120],"minExtent":49,"maxExtent":49,"labelPadding":7}}},"layer":[{"transform":[{"filter":"datum.y<=9"}],"mark":{"type":"rule","strokeWidth":9,"color":"#3563E0"},"encoding":{"y2":{"datum":0}}},{"mark":"point"}]},{"title":{"text":"Tanta","offset":-11,"dx":3},"width":535,"height":331,"data":{"values":[
{"x":1994.9,"y":0.5},{"x":1995.15,"y":0.5},{"x":1995.45,"y":0.5},{"x":1995.7,"y":0},{"x":1994.92,"y":3.1},{"x":1995.15,"y":3.1},{"x":1995.4,"y":3.1},{"x":1994.95,"y":5.7},{"x":1995.2,"y":5.7},{"x":1994.95,"y":8.3},{"x":1995.15,"y":8.3},{"x":1994.95,"y":10.9},{"x":1995.1,"y":10.9},{"x":1994.95,"y":13.5},{"x":1995.08,"y":15},{"x":1994.93,"y":16},{"x":1994.95,"y":18.5},{"x":1995.08,"y":20},{"x":1994.95,"y":27},{"x":1995.15,"y":24},
{"x":1995.9,"y":0.5},{"x":1996.2,"y":0.5},{"x":1996.5,"y":0.5},{"x":1996.65,"y":0},{"x":1995.85,"y":3.1},{"x":1996.1,"y":3.1},{"x":1996.4,"y":3.1},{"x":1995.85,"y":5.7},{"x":1996.1,"y":5.7},{"x":1996.35,"y":5.7},{"x":1995.92,"y":8.3},{"x":1996.2,"y":8.3},{"x":1995.95,"y":10.9},{"x":1996.2,"y":10.9},{"x":1996,"y":13.5},{"x":1996.2,"y":13.5},{"x":1996.08,"y":16.1},{"x":1996.05,"y":20},{"x":1996.15,"y":18.7},{"x":1996.3,"y":19},{"x":1996.05,"y":32},{"x":1996.2,"y":26},{"x":1996.05,"y":23.5},
{"x":1996.8,"y":0.5},{"x":1997.05,"y":0.5},{"x":1997.35,"y":0.5},{"x":1997.6,"y":0},{"x":1996.85,"y":3.1},{"x":1997.1,"y":3.1},{"x":1997.35,"y":3.1},{"x":1996.9,"y":5.7},{"x":1997.15,"y":5.7},{"x":1997.35,"y":6},{"x":1996.95,"y":8.3},{"x":1997.2,"y":8.3},{"x":1996.98,"y":10.9},{"x":1997.2,"y":10.9},{"x":1997.05,"y":13.5},{"x":1997.2,"y":14},{"x":1997.1,"y":16.1},{"x":1997.2,"y":18},{"x":1997.05,"y":20},{"x":1996.95,"y":21.5},{"x":1997.18,"y":19},{"x":1997.1,"y":27.5},
{"x":1997.75,"y":0.5},{"x":1998,"y":0.5},{"x":1998.3,"y":0.5},{"x":1998.55,"y":0},{"x":1997.8,"y":3.1},{"x":1998.05,"y":3.1},{"x":1998.35,"y":3.1},{"x":1997.85,"y":5.7},{"x":1998.1,"y":5.7},{"x":1998.3,"y":5.7},{"x":1997.92,"y":8.3},{"x":1998.15,"y":8.3},{"x":1997.95,"y":10.9},{"x":1998.15,"y":10.9},{"x":1997.95,"y":13.5},{"x":1998.1,"y":14},{"x":1997.95,"y":16},{"x":1998.2,"y":42},{"x":1998.1,"y":26},{"x":1998.05,"y":20},{"x":1998.2,"y":19.5},{"x":1998.1,"y":17.5},
{"x":1998.7,"y":0.5},{"x":1999,"y":0.5},{"x":1999.3,"y":0.5},{"x":1999.55,"y":0},{"x":1998.8,"y":3.1},{"x":1999.05,"y":3.1},{"x":1999.3,"y":3.1},{"x":1998.82,"y":5.7},{"x":1999.1,"y":5.7},{"x":1999.35,"y":5.7},{"x":1998.85,"y":8.3},{"x":1999.1,"y":8.3},{"x":1999.35,"y":8.3},{"x":1998.9,"y":10.9},{"x":1999.2,"y":10.9},{"x":1998.95,"y":13.5},{"x":1999.2,"y":13.5},{"x":1999.1,"y":15.5},{"x":1999,"y":21},{"x":1999.2,"y":21},{"x":1998.98,"y":19},{"x":1999.12,"y":19.7},{"x":1999.25,"y":24},
{"x":1999.75,"y":0.5},{"x":2000.05,"y":0.5},{"x":2000.35,"y":0.5},{"x":2000.6,"y":0},{"x":1999.75,"y":3.1},{"x":2000.05,"y":3.1},{"x":2000.35,"y":3.1},{"x":1999.8,"y":5.7},{"x":2000.1,"y":5.7},{"x":2000.35,"y":5.7},{"x":1999.8,"y":8.3},{"x":2000.1,"y":8.3},{"x":2000.35,"y":9},{"x":1999.85,"y":10.9},{"x":2000.15,"y":10.9},{"x":1999.85,"y":13.5},{"x":2000.15,"y":13.5},{"x":1999.9,"y":16.1},{"x":2000.2,"y":16.1},{"x":1999.95,"y":18.7},{"x":2000.25,"y":18},{"x":2000.03,"y":21.3},{"x":2000.15,"y":28.8},{"x":2000.2,"y":26.8},
{"x":2000.65,"y":0.5},{"x":2001,"y":0.5},{"x":2001.3,"y":0.5},{"x":2001.55,"y":0},{"x":2000.75,"y":3.1},{"x":2001,"y":3.1},{"x":2001.3,"y":3.1},{"x":2000.75,"y":5.7},{"x":2001,"y":5.7},{"x":2001.3,"y":5.7},{"x":2000.8,"y":8.3},{"x":2001.05,"y":8.3},{"x":2001.28,"y":8.3},{"x":2000.8,"y":10.9},{"x":2001.1,"y":10.9},{"x":2001.1,"y":13.5},{"x":2000.85,"y":17.5},{"x":2001.05,"y":16},{"x":2001.2,"y":16},{"x":2000.9,"y":22},{"x":2001.15,"y":22},{"x":2001,"y":23.5},{"x":2001.1,"y":19.5},{"x":2001.22,"y":20},
{"x":2001.7,"y":0.5},{"x":2002,"y":0.5},{"x":2002.3,"y":0.5},{"x":2002.6,"y":0},{"x":2001.7,"y":3.1},{"x":2002,"y":3.1},{"x":2002.3,"y":3.1},{"x":2001.75,"y":5.7},{"x":2002.05,"y":5.7},{"x":2002.35,"y":5.7},{"x":2001.85,"y":8.3},{"x":2002.1,"y":8.3},{"x":2002.35,"y":8.3},{"x":2001.9,"y":10.9},{"x":2002.15,"y":10.9},{"x":2001.95,"y":13.5},{"x":2002.15,"y":13.5},{"x":2001.98,"y":16.1},{"x":2002.2,"y":16.1},{"x":2002,"y":19},{"x":2002.2,"y":19},{"x":2002.17,"y":22.5},{"x":2002,"y":28},
{"x":2002.72,"y":0.5},{"x":2003.05,"y":0.5},{"x":2003.35,"y":0.5},{"x":2003.6,"y":0},{"x":2002.75,"y":3.1},{"x":2003.05,"y":3.1},{"x":2003.35,"y":3.1},{"x":2002.8,"y":5.7},{"x":2003.05,"y":5.7},{"x":2003.3,"y":5.7},{"x":2002.85,"y":8.3},{"x":2003.1,"y":8.3},{"x":2002.9,"y":10.9},{"x":2003.1,"y":10.9},{"x":2002.95,"y":13.5},{"x":2003.15,"y":13.5},{"x":2003,"y":16.1},{"x":2003.15,"y":16.1},{"x":2003,"y":19},{"x":2003.15,"y":19},{"x":2003.05,"y":25},{"x":2003.12,"y":22},
{"x":2003.8,"y":0.5},{"x":2004.05,"y":0.5},{"x":2004.35,"y":0.5},{"x":2004.6,"y":0},{"x":2003.82,"y":3.1},{"x":2004.1,"y":3.1},{"x":2004.4,"y":3.1},{"x":2003.85,"y":5.7},{"x":2004.1,"y":5.7},{"x":2004.35,"y":5.7},{"x":2003.9,"y":8.3},{"x":2004.15,"y":8.3},{"x":2003.95,"y":10.9},{"x":2004.2,"y":11},{"x":2004,"y":13},{"x":2003.95,"y":14.5},{"x":2004.05,"y":15},{"x":2004.1,"y":17.5},{"x":2003.98,"y":19.5},{"x":2004.1,"y":20},{"x":2004.1,"y":22.5},{"x":2003.97,"y":28},{"x":2004.1,"y":33},
{"x":2004.65,"y":0.5},{"x":2005,"y":0.5},{"x":2005.3,"y":0.5},{"x":2005.6,"y":0},{"x":2004.75,"y":3.1},{"x":2005,"y":3.1},{"x":2005.3,"y":3.1},{"x":2004.78,"y":5.7},{"x":2005,"y":5.7},{"x":2005.3,"y":5.7},{"x":2004.8,"y":8.3},{"x":2005.05,"y":8.3},{"x":2005.3,"y":8.3},{"x":2004.85,"y":10.9},{"x":2005.1,"y":10.9},{"x":2005.3,"y":11},{"x":2004.9,"y":13.5},{"x":2005.2,"y":13.5},{"x":2005,"y":15.5},{"x":2005.25,"y":15.5},{"x":2004.9,"y":19},{"x":2005,"y":20},{"x":2005.12,"y":18},{"x":2005.25,"y":19},
{"x":2005.65,"y":0},{"x":2005.85,"y":0.5},{"x":2006.1,"y":0.5},{"x":2006.4,"y":0.5},{"x":2005.85,"y":3.1},{"x":2006.1,"y":3.1},{"x":2006.4,"y":3.1},{"x":2005.88,"y":5.7},{"x":2006.1,"y":5.7},{"x":2006.35,"y":5.7},{"x":2005.95,"y":8.3},{"x":2006.2,"y":8.3},{"x":2005.98,"y":10.9},{"x":2006.22,"y":10.9},{"x":2006,"y":13.5},{"x":2006.2,"y":13.5},{"x":2006.05,"y":16.1},{"x":2006.2,"y":16.1},{"x":2006.07,"y":18.7},{"x":2006.25,"y":19.5},{"x":2006.08,"y":21.3},{"x":2006.22,"y":22},{"x":2006.07,"y":24.5},{"x":2006.05,"y":29.5},
{"x":2006.85,"y":0.5},{"x":2007.1,"y":0.5},{"x":2007.35,"y":0.5},{"x":2007.6,"y":0},{"x":2006.85,"y":3.1},{"x":2007.1,"y":3.1},{"x":2007.35,"y":3.1},{"x":2006.87,"y":5.7},{"x":2007.1,"y":5.7},{"x":2007.35,"y":5.7},{"x":2006.9,"y":8.3},{"x":2007.15,"y":8.3},{"x":2006.82,"y":10.5},{"x":2007.05,"y":10.9},{"x":2007.25,"y":10.9},{"x":2007.05,"y":13.5},{"x":2007.25,"y":13.5},{"x":2007.1,"y":16.1},{"x":2007.25,"y":16.1},{"x":2007.15,"y":19},{"x":2007.15,"y":21},{"x":2007.08,"y":33.5},{"x":2007.12,"y":28},
{"x":2007.75,"y":0.5},{"x":2008.05,"y":0.5},{"x":2008.3,"y":0.5},{"x":2008.55,"y":0},{"x":2007.78,"y":3.1},{"x":2008.05,"y":3.1},{"x":2008.3,"y":3.1},{"x":2007.8,"y":5.7},{"x":2008.05,"y":5.7},{"x":2008.3,"y":5.7},{"x":2007.82,"y":8.3},{"x":2008.1,"y":8.3},{"x":2007.85,"y":10.9},{"x":2008.1,"y":10.9},{"x":2007.9,"y":13.5},{"x":2008.08,"y":14},{"x":2008.2,"y":15.7},{"x":2007.92,"y":17},{"x":2008,"y":18},{"x":2008.05,"y":19},{"x":2008.15,"y":28},
{"x":2008.75,"y":0.5},{"x":2009.05,"y":0.5},{"x":2009.35,"y":0.5},{"x":2009.55,"y":0},{"x":2008.82,"y":3.1},{"x":2009.1,"y":3.1},{"x":2009.35,"y":4},{"x":2008.9,"y":5.7},{"x":2009.15,"y":5.7},{"x":2009,"y":8.3},{"x":2009.2,"y":8.3},{"x":2009,"y":10.9},{"x":2009.25,"y":10.9},{"x":2008.85,"y":12},{"x":2009.05,"y":13.5},{"x":2009.25,"y":13.5},{"x":2008.87,"y":15},{"x":2009.1,"y":16.1},{"x":2009.12,"y":18.7},{"x":2009.15,"y":69},{"x":2009.08,"y":33},{"x":2009.03,"y":27},{"x":2009.2,"y":27.5},{"x":2009.05,"y":24.5},{"x":2009.1,"y":22},
{"x":2009.75,"y":0.5},{"x":2010.05,"y":0.5},{"x":2010.35,"y":0.5},{"x":2010.6,"y":0},{"x":2009.78,"y":3.1},{"x":2010.05,"y":3.1},{"x":2010.35,"y":3.1},{"x":2009.8,"y":5.7},{"x":2010.05,"y":5.7},{"x":2010.35,"y":5.7},{"x":2009.85,"y":8.3},{"x":2010.1,"y":8.3},{"x":2010.35,"y":8.3},{"x":2009.72,"y":12},{"x":2009.85,"y":10.9},{"x":2010.3,"y":11},{"x":2009.9,"y":14},{"x":2010.28,"y":14},{"x":2009.9,"y":16.5},{"x":2010.2,"y":18},{"x":2009.9,"y":19},{"x":2010.05,"y":20.5},{"x":2010.2,"y":22},{"x":2009.92,"y":24.5},{"x":2010.1,"y":24.5},
{"x":2010.75,"y":0.5},{"x":2011.05,"y":0.5},{"x":2011.35,"y":0.5},{"x":2011.6,"y":0},{"x":2010.78,"y":3.1},{"x":2011.05,"y":3.1},{"x":2011.35,"y":3.1},{"x":2010.82,"y":5.7},{"x":2011.05,"y":5.7},{"x":2011.35,"y":5.7},{"x":2010.88,"y":8.3},{"x":2011.1,"y":8.3},{"x":2010.9,"y":10.9},{"x":2011.15,"y":10.9},{"x":2010.95,"y":13.5},{"x":2011.15,"y":13.5},{"x":2011,"y":16.1},{"x":2011.2,"y":16.1},{"x":2011.05,"y":18.7},{"x":2011.2,"y":19},{"x":2011.1,"y":21.3},{"x":2011.15,"y":23},{"x":2011.05,"y":32.5},
{"x":2011.75,"y":0.5},{"x":2012.05,"y":0.5},{"x":2012.35,"y":0.5},{"x":2012.65,"y":0},{"x":2011.75,"y":3.1},{"x":2012.05,"y":3.1},{"x":2012.35,"y":3.1},{"x":2011.78,"y":5.7},{"x":2012.05,"y":5.7},{"x":2012.35,"y":5.7},{"x":2011.82,"y":8.3},{"x":2012.1,"y":8.3},{"x":2012.35,"y":8.3},{"x":2011.88,"y":10.9},{"x":2012.15,"y":10.9},{"x":2011.9,"y":13.5},{"x":2012.15,"y":13.5},{"x":2011.95,"y":16.1},{"x":2012.2,"y":16.1},{"x":2012,"y":18.7},{"x":2012.2,"y":19},{"x":2012.05,"y":21.3},{"x":2012.15,"y":21},{"x":2012.05,"y":23},{"x":2012.17,"y":28.5},
{"x":2012.8,"y":0.5},{"x":2013.05,"y":0.5},{"x":2013.3,"y":0.5},{"x":2013.6,"y":0},{"x":2012.85,"y":3.1},{"x":2013.1,"y":3.1},{"x":2013.3,"y":3.1},{"x":2012.85,"y":5.7},{"x":2013.1,"y":5.7},{"x":2013.22,"y":5.7},{"x":2012.85,"y":8.3},{"x":2013.1,"y":8.3},{"x":2013.25,"y":8.3},{"x":2012.85,"y":10.9},{"x":2013.1,"y":10.9},{"x":2012.85,"y":13.5},{"x":2013.12,"y":13.5},{"x":2012.92,"y":16.1},{"x":2013.15,"y":16.1},{"x":2013.05,"y":18},{"x":2013.2,"y":18.5},{"x":2013.05,"y":21},{"x":2013.05,"y":24.5},{"x":2013.07,"y":97.5},{"x":2013.15,"y":39},
{"x":2013.75,"y":0},{"x":2013.95,"y":0.5},{"x":2014.2,"y":0.5},{"x":2014.38,"y":0.5},{"x":2013.95,"y":3.1},{"x":2014.2,"y":3.1},{"x":2014.38,"y":3.1},{"x":2013.97,"y":5.7},{"x":2014.2,"y":5.7},{"x":2014.38,"y":5.7},{"x":2013.98,"y":8.3},{"x":2014.2,"y":8.3},{"x":2014.38,"y":8.3},{"x":2014,"y":10.9},{"x":2014.2,"y":10.9},{"x":2014.35,"y":10.9},{"x":2014.05,"y":13.5},{"x":2014.28,"y":13.5},{"x":2014.15,"y":16.1},{"x":2014.3,"y":16.1},{"x":2014.15,"y":18.7},{"x":2014.3,"y":18.7},{"x":2014.22,"y":20.5}
]},"encoding":{"x":{"field":"x","type":"quantitative","scale":{"domain":[1994.79,2014.46],"nice":false},"axis":{"values":[1996,1998,2000,2002,2004,2006,2008,2010,2012,2014],"format":"d","labelOverlap":false,"labelPadding":6}},"y":{"field":"y","type":"quantitative","scale":{"domain":[0,100],"nice":false},"axis":{"values":[0,20,40,60,80,100],"minExtent":49,"maxExtent":49,"labelPadding":7}}},"layer":[{"transform":[{"filter":"datum.y<=19"}],"mark":{"type":"rule","strokeWidth":9,"color":"#3563E0"},"encoding":{"y2":{"datum":0}}},{"mark":"point"}]}]}]}]}]}
